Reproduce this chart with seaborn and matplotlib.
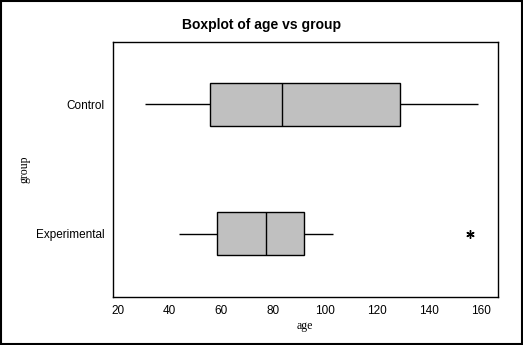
import matplotlib
matplotlib.use("Agg")
import matplotlib.pyplot as plt
import seaborn as sns
import pandas as pd
from matplotlib.patches import Rectangle

# Summary statistics
groups = ["Control", "Experimental"]
whisker_low = [30.5, 43.6]
q1 = [55.7, 58.4]
median = [83.4, 77.3]
q3 = [128.9, 91.9]
whisker_high = [158.7, 102.8]
outliers = [[], [155.8]]
x_ticks = [20, 40, 60, 80, 100, 120, 140, 160]

# Build a minimal sample per group that reproduces these statistics
rows = []
for g, lo, a, m, b, hi, out in zip(groups, whisker_low, q1, median, q3, whisker_high, outliers):
    if out:
        vals = [lo, a, a, m, m, b, b, hi] + out
    else:
        vals = [lo, a, m, b, hi]
    rows += [(g, v) for v in vals]
df = pd.DataFrame(rows, columns=["group", "age"])

sns.set_style("white")
plt.rcParams["font.family"] = ["Liberation Sans", "DejaVu Sans"]
plt.rcParams["text.color"] = "black"
plt.rcParams["axes.labelcolor"] = "black"
plt.rcParams["xtick.color"] = "black"
plt.rcParams["ytick.color"] = "black"

fig = plt.figure(figsize=(5.23, 3.45), dpi=100)
ax = fig.add_axes([0.2155, 0.139, 0.7365, 0.740])

sns.boxplot(data=df, x="age", y="group", order=groups, ax=ax, width=0.333,
            color="#C0C0C0", linecolor="black", linewidth=1.0, whis=1.5,
            flierprops=dict(marker=(6, 2, 0), markersize=6, markeredgewidth=1.0,
                            markerfacecolor="black", markeredgecolor="black",
                            linestyle="none"),
            showcaps=False, saturation=1)

for p in ax.patches:
    p.set_facecolor("#C0C0C0")

ax.set_xlim(18.1, 166.5)
ax.set_ylim(1.49, -0.485)
ax.set_xticks(x_ticks)
ax.set_xticklabels([str(t) for t in x_ticks], fontsize=8.5)
ax.set_yticks([0, 1])
ax.set_yticklabels(groups, fontsize=8.5)
ax.tick_params(axis="both", direction="out", length=4, width=1, color="black",
               labelcolor="black", pad=2)
for s in ax.spines.values():
    s.set_color("black")
    s.set_linewidth(1.0)

ax.set_xlabel("age", fontsize=8.5, family=["Liberation Serif"], labelpad=2, color="black")
ax.set_ylabel("group", fontsize=8.5, family=["Liberation Serif"], labelpad=4, color="black")

fig.suptitle("Boxplot of age vs group", x=0.5, y=0.928, fontsize=10, fontweight="bold",
             va="center", color="black")

fig.patches.append(Rectangle((0.0015, 0.002), 0.997, 0.996, transform=fig.transFigure,
                             fill=False, edgecolor="black", linewidth=1.5))

fig.savefig("out.png", dpi=100, facecolor="white")
